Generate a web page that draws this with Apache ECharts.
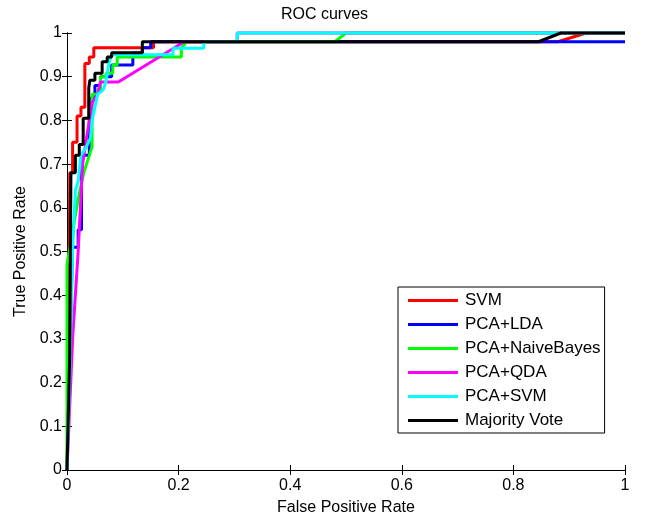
<!DOCTYPE html>
<html><head><meta charset="utf-8">
<script src="https://cdn.jsdelivr.net/npm/echarts@6/dist/echarts.min.js"></script>
<style>html,body{margin:0;padding:0;background:#fff}#c{width:649px;height:519px}</style>
</head><body><div id="c"></div>
<script>
var seriesNames = ['SVM','PCA+LDA','PCA+NaiveBayes','PCA+QDA','PCA+SVM','Majority Vote'];
var seriesColors = ['#ff0000','#0000ff','#00ff00','#ff00ff','#00ffff','#000000'];
var xTicks = [0,0.2,0.4,0.6,0.8,1];
var yTicks = [0,0.1,0.2,0.3,0.4,0.5,0.6,0.7,0.8,0.9,1];

var svm = [[0,0],[0.003,0.27],[0.005,0.68],[0.01,0.68],[0.01,0.75],[0.018,0.75],[0.018,0.81],[0.025,0.81],[0.025,0.83],[0.032,0.83],[0.032,0.87],[0.032,0.93],[0.04,0.93],[0.04,0.945],[0.048,0.945],[0.048,0.966],[0.155,0.966],[0.155,0.98],[0.88,0.98],[0.93,1],[1,1]];
var lda = [[0,0],[0.005,0.27],[0.01,0.51],[0.02,0.51],[0.02,0.55],[0.026,0.55],[0.026,0.72],[0.04,0.72],[0.04,0.85],[0.05,0.85],[0.05,0.88],[0.06,0.88],[0.06,0.9],[0.08,0.9],[0.08,0.927],[0.118,0.927],[0.118,0.954],[0.135,0.954],[0.135,0.966],[0.15,0.966],[0.15,0.98],[1,0.98]];
var nb = [[0,0],[0,0.47],[0.02,0.62],[0.03,0.68],[0.035,0.7],[0.04,0.72],[0.045,0.74],[0.045,0.86],[0.055,0.86],[0.055,0.87],[0.06,0.87],[0.06,0.9],[0.07,0.9],[0.07,0.908],[0.082,0.908],[0.082,0.927],[0.09,0.927],[0.09,0.945],[0.205,0.945],[0.205,0.966],[0.215,0.98],[0.48,0.98],[0.5,1],[1,1]];
var qda = [[0,0],[0.01,0.3],[0.02,0.5],[0.028,0.7],[0.035,0.76],[0.04,0.8],[0.045,0.84],[0.055,0.86],[0.06,0.888],[0.092,0.888],[0.21,0.98],[0.305,0.98],[0.305,1],[1,1]];
var pcasvm = [[0,0],[0.005,0.22],[0.01,0.5],[0.015,0.64],[0.02,0.66],[0.025,0.72],[0.035,0.74],[0.042,0.76],[0.045,0.8],[0.05,0.83],[0.055,0.86],[0.065,0.87],[0.07,0.89],[0.075,0.93],[0.08,0.95],[0.19,0.95],[0.19,0.965],[0.245,0.965],[0.245,0.98],[0.305,0.98],[0.305,1],[1,1]];
var vote = [[0,0],[0.005,0.27],[0.007,0.68],[0.015,0.68],[0.015,0.72],[0.022,0.72],[0.022,0.745],[0.029,0.745],[0.029,0.805],[0.039,0.805],[0.039,0.874],[0.041,0.874],[0.041,0.892],[0.05,0.892],[0.05,0.908],[0.063,0.908],[0.063,0.934],[0.072,0.934],[0.072,0.945],[0.08,0.945],[0.08,0.955],[0.135,0.955],[0.135,0.98],[0.845,0.98],[0.885,1],[1,1]];
var allData = [svm, lda, nb, qda, pcasvm, vote];

var font = 'Liberation Sans, Arial, sans-serif';
var fs = 16;
var chart = echarts.init(document.getElementById('c'), null, {renderer:'canvas'});
function baseAxis(pos, show, ticks, name){
  return {
    type:'value', min:0, max:1, position: pos,
    interval: ticks[1]-ticks[0],
    name: show ? name : '', nameLocation:'middle',
    nameTextStyle:{color:'#000', fontSize:fs, fontFamily:font},
    axisLine:{show:true, lineStyle:{color:'#000', width:1}},
    axisTick:{show:true, inside:true, length:5, lineStyle:{color:'#000'}},
    axisLabel:{show:show, color:'#000', fontSize:fs, fontFamily:font, formatter:function(v){return String(+v.toFixed(2));}},
    splitLine:{show:false}
  };
}
var xa = baseAxis('bottom', true, xTicks, 'False Positive Rate'); xa.nameGap = 30; xa.axisLabel.margin = 8;
var xb = baseAxis('top', false, xTicks, '');
var ya = baseAxis('left', true, yTicks, 'True Positive Rate'); ya.nameGap = 35; ya.axisLabel.margin = 5;
var yb = baseAxis('right', false, yTicks, '');
var series = allData.map(function(d,i){
  return {name:seriesNames[i], type:'line', data:d, xAxisIndex:0, yAxisIndex:0,
    showSymbol:false, symbol:'none', clip:false, animation:false,
    lineStyle:{color:seriesColors[i], width:3}, itemStyle:{color:seriesColors[i]}};
});
chart.setOption({
  backgroundColor:'#fff',
  animation:false,
  title:{text:'ROC curves', left:'center', top:2, textStyle:{color:'#000', fontSize:fs, fontWeight:'normal', fontFamily:font}},
  grid:{left:67, right:24, top:33, bottom:49, containLabel:false, outerBoundsMode:'none'},
  xAxis:[xa, xb],
  yAxis:[ya, yb],
  legend:{orient:'vertical', left:398, top:287, data:seriesNames, icon:'rect',
    backgroundColor:'#fff', borderColor:'#000', borderWidth:1, padding:[5,4,4,10],
    itemWidth:50, itemHeight:3, itemGap:7,
    textStyle:{color:'#000', fontSize:17, fontFamily:font, padding:[0,0,0,2]}},
  series:series
});
</script></body></html>
